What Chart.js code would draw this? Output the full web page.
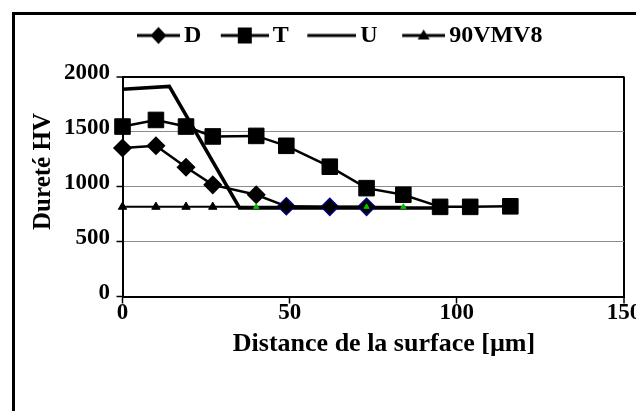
<!DOCTYPE html>
<html>
<head>
<meta charset="utf-8">
<script src="https://cdn.jsdelivr.net/npm/chart.js@4/dist/chart.umd.min.js"></script>
<style>
html,body{margin:0;padding:0;background:#fff;overflow:hidden}
canvas{display:block}
</style>
</head>
<body>
<canvas id="c" width="636" height="411"></canvas>
<script>
// ---- data ----
const seriesNames = ['D', 'T', 'U', '90VMV8'];

const distD = [0, 10, 19, 27, 40, 49, 62, 73];
const hardD = [1350, 1370, 1175, 1015, 925, 820, 815, 815];

const distT = [0, 10, 19, 27, 40, 49, 62, 73, 84, 95, 104, 116];
const hardT = [1545, 1605, 1545, 1455, 1460, 1370, 1180, 985, 925, 815, 815, 820];

const distU = [0, 14, 35, 95];
const hardU = [1885, 1910, 805, 805];

const dist90 = [0, 10, 19, 27, 40, 49, 62, 73, 84];
const hard90 = [815, 815, 815, 815, 815, 815, 815, 815, 815];

const xTickValues = [0, 50, 100, 150];
const yTickValues = [0, 500, 1000, 1500, 2000];

const xTitle = 'Distance de la surface [µm]';
const yTitle = 'Dureté HV';

// ---- helpers ----
Chart.defaults.font.family = '"Liberation Serif", "Times New Roman", serif';
Chart.defaults.color = '#000';

function pts(xs, ys) { return xs.map((x, i) => ({ x: x, y: ys[i] })); }

function makeIcon(kind, len) {
  const c = document.createElement('canvas');
  c.width = 52; c.height = 22;
  const g = c.getContext('2d');
  g.strokeStyle = '#000'; g.fillStyle = '#000'; g.lineWidth = 3;
  const x0 = 52 - len, x1 = 52, cy = 11, cx = (x0 + x1) / 2;
  g.beginPath(); g.moveTo(x0, cy); g.lineTo(x1, cy); g.stroke();
  g.beginPath();
  if (kind === 'diamond') {
    g.moveTo(cx, cy - 8.5); g.lineTo(cx + 8, cy); g.lineTo(cx, cy + 8.5); g.lineTo(cx - 8, cy); g.closePath(); g.fill();
  } else if (kind === 'square') {
    g.rect(cx - 7, cy - 8, 14, 16); g.fill();
  } else if (kind === 'triangle') {
    g.moveTo(cx, cy - 6); g.lineTo(cx + 6, cy + 4); g.lineTo(cx - 6, cy + 4); g.closePath(); g.fill();
  }
  return c;
}
const icons = [makeIcon('diamond', 43), makeIcon('square', 48), makeIcon('line', 49), makeIcon('triangle', 43)];

function shiftTitle(scale, dx, dy) {
  if (scale._titleShifted) return;
  scale._titleShifted = true;
  const orig = scale.drawTitle;
  scale.drawTitle = function () {
    const c = this.ctx; c.save(); c.translate(dx, dy); orig.call(this); c.restore();
  };
}

const framePlugin = {
  id: 'frame',
  beforeUpdate(chart) {
    const lg = chart.legend;
    if (lg && !lg._fixed) {
      lg._fixed = true;
      const origFit = lg.fit;
      lg.fit = function () { origFit.call(this); this.height = 76.5; };
    }
  },
  beforeDraw(chart) {
    const ctx = chart.ctx;
    ctx.save();
    ctx.fillStyle = '#fff';
    ctx.fillRect(0, 0, chart.width, chart.height);
    ctx.strokeStyle = '#000';
    ctx.lineWidth = 3;
    ctx.strokeRect(13.5, 13.5, chart.width + 50, chart.height + 50);
    ctx.restore();
  }
};

const NAVY = '#000080', GREEN = '#00c000';
const isGreen = c => !!(c.raw && (c.raw.x === 40 || c.raw.x >= 73));

new Chart(document.getElementById('c'), {
  type: 'line',
  data: {
    datasets: [
      {
        label: seriesNames[0], data: pts(distD, hardD), order: 1, clip: false,
        borderColor: '#000', borderWidth: 2.5, tension: 0,
        pointStyle: 'rectRot', pointRadius: 8.5, pointBackgroundColor: '#000',
        pointBorderColor: c => (c.raw && c.raw.x > 45 && c.raw.y < 850) ? NAVY : '#000', pointBorderWidth: 1.5
      },
      {
        label: seriesNames[1], data: pts(distT, hardT), order: 2, clip: false,
        borderColor: '#000', borderWidth: 2.5, tension: 0,
        pointStyle: 'rect', pointRadius: 11, pointBackgroundColor: '#000', pointBorderColor: '#000', pointBorderWidth: 1
      },
      {
        label: seriesNames[2], data: pts(distU, hardU), order: 3, clip: false,
        borderColor: '#000', borderWidth: 3.5, tension: 0, pointRadius: 0
      },
      {
        label: seriesNames[3], data: pts(dist90, hard90), order: 0, clip: false,
        borderColor: '#000', borderWidth: 2, tension: 0,
        pointStyle: 'triangle',
        pointRadius: c => isGreen(c) ? 3 : 4.8,
        pointBackgroundColor: c => isGreen(c) ? GREEN : '#000',
        pointBorderColor: c => isGreen(c) ? GREEN : '#000',
        pointBorderWidth: 1
      }
    ]
  },
  options: {
    responsive: false,
    animation: false,
    devicePixelRatio: 1,
    layout: { padding: { left: 42.4, right: 0, top: 0, bottom: 0 } },
    plugins: {
      tooltip: { enabled: false },
      legend: {
        position: 'top',
        labels: {
          usePointStyle: true, pointStyleWidth: 36, padding: 23.5,
          color: '#000', font: { size: 24, weight: 'bold' },
          generateLabels: () => seriesNames.map((n, i) => ({
            text: n, pointStyle: icons[i], fillStyle: '#000', strokeStyle: '#000',
            lineWidth: 0, hidden: false, datasetIndex: i, fontColor: '#000'
          }))
        }
      }
    },
    scales: {
      x: {
        type: 'linear', min: 0, max: 150,
        afterBuildTicks: s => { s.ticks = xTickValues.map(v => ({ value: v })); },
        afterFit: s => { s.height = 114.5; s.paddingRight = 10; shiftTitle(s, 10.75, 0); },
        border: { color: '#000', width: 2 },
        grid: {
          color: c => (c.tick && c.tick.value === 150) ? '#000' : 'rgba(0,0,0,0)',
          lineWidth: c => (c.tick && c.tick.value === 150) ? 2 : 1,
          tickColor: '#000', tickLength: 7, tickWidth: 1.5
        },
        ticks: { color: '#000', font: { size: 23, weight: 'bold', lineHeight: 1 }, padding: -1.5, maxRotation: 0, autoSkip: false, callback: v => String(v) },
        title: { display: true, text: xTitle, color: '#000', font: { size: 26, weight: 'bold' }, padding: { top: 0, bottom: 51 } }
      },
      y: {
        min: 0, max: 2000,
        afterBuildTicks: s => { s.ticks = yTickValues.map(v => ({ value: v })); },
        afterFit: s => { s.width = 80.1; shiftTitle(s, -18, -15); },
        border: { color: '#000', width: 2 },
        grid: {
          color: c => (c.tick && c.tick.value === 2000) ? '#000' : '#8c8c8c',
          lineWidth: c => (c.tick && c.tick.value === 2000) ? 2 : 1,
          tickColor: '#000', tickLength: 6, tickWidth: 1.5
        },
        ticks: { color: '#000', font: { size: 23, weight: 'bold', lineHeight: 1 }, padding: 6.5, labelOffset: -3, callback: v => String(v) },
        title: { display: true, text: yTitle, color: '#000', font: { size: 25, weight: 'bold' } }
      }
    }
  },
  plugins: [framePlugin]
});
</script>
</body>
</html>
